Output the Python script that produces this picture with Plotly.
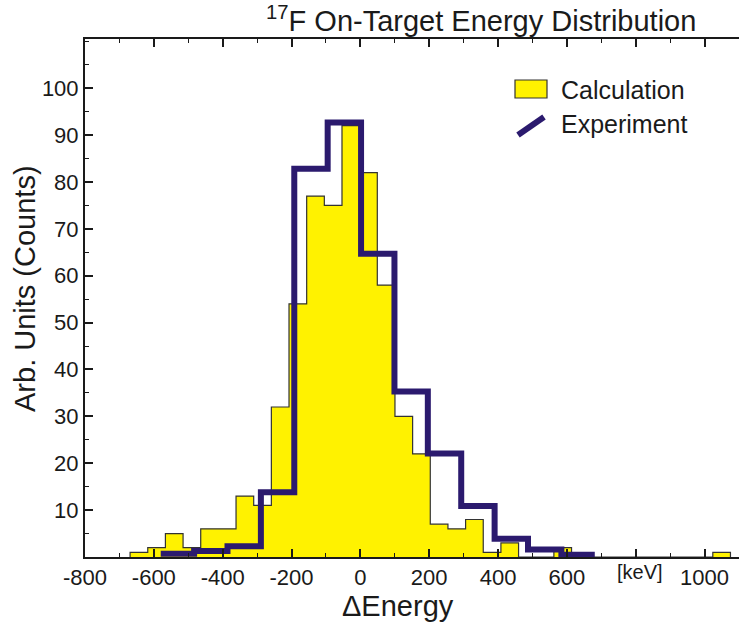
import numpy as np
import plotly.graph_objects as go

# ---- data ----
calc_lo = -669.0          # left edge of first calculation bin [keV]
calc_width = 51.3         # calculation bin width [keV]
calc_vals = [1, 2, 5, 2, 6, 6, 13, 11, 32, 54, 77, 75, 92, 82, 58, 30, 22, 7, 6, 8,
             1, 3, 0, 0, 2, 0, 0, 0, 0, 0, 0, 0, 0, 1]

exp_edges = [-580, -483, -386, -289, -192, -95, 2, 99, 196, 293, 390, 487, 584, 681]
exp_vals = [0.7, 1.3, 2.3, 13.8, 82.8, 92.7, 64.7, 35.3, 22.1, 10.9, 3.9, 1.6, 0.5]

x_tickvals = [-800, -600, -400, -200, 0, 200, 400, 600, 800, 1000]
x_ticktext = ["-800", "-600", "-400", "-200", "0", "200", "400", "600", " ", "1000"]
y_tickvals = [10, 20, 30, 40, 50, 60, 70, 80, 90, 100]

FONT = "Liberation Sans, Arial, Helvetica, sans-serif"
YELLOW = "#fff200"
NAVY = "#2b1a6e"
INK = "#1a1a1a"

calc_edges = calc_lo + calc_width * np.arange(len(calc_vals) + 1)
cx = [calc_edges[0]] + list(calc_edges[:-1]) + [calc_edges[-1]]
cy = [0] + list(calc_vals) + [0]

ex = list(exp_edges)
ey = list(exp_vals) + [exp_vals[-1]]

fig = go.Figure()
fig.add_trace(go.Scatter(x=cx, y=cy, mode="lines", line=dict(shape="hv", color="#333333", width=1.2),
                         fill="tozeroy", fillcolor=YELLOW, name="Calculation", showlegend=False,
                         hoverinfo="skip"))
fig.add_trace(go.Scatter(x=ex, y=ey, mode="lines", line=dict(shape="hv", color=NAVY, width=6),
                         name="Experiment", showlegend=False, hoverinfo="skip"))

# geometry helpers (paper coordinates from pixel positions)
L, R, T, B = 85, 739, 39, 557
W, H = R - L, B - T
def px(x):
    return (x - L) / W
def py(y):
    return (B - y) / H

fig.update_layout(
    width=739, height=626,
    margin=dict(l=L, r=739 - R, t=T, b=626 - B),
    paper_bgcolor="white", plot_bgcolor="white",
    font=dict(family=FONT, color=INK, size=22),
    showlegend=False,
)
fig.update_xaxes(
    range=[-800, 1100], showgrid=False, zeroline=False,
    showline=True, linecolor=INK, linewidth=2, mirror="ticks",
    tickmode="array", tickvals=x_tickvals, ticktext=x_ticktext,
    ticks="inside", ticklen=8, tickwidth=1.5, tickcolor=INK,
    tickfont=dict(size=22, family=FONT, color=INK), ticklabelstandoff=0,
    minor=dict(tickmode="linear", tick0=-800, dtick=100, ticks="inside", ticklen=4,
               tickwidth=1.2, tickcolor=INK, showgrid=False),
)
fig.update_yaxes(
    range=[0, 110.5], showgrid=False, zeroline=False,
    showline=True, linecolor=INK, linewidth=2, mirror=False,
    tickmode="array", tickvals=y_tickvals,
    ticks="inside", ticklen=8, tickwidth=1.5, tickcolor=INK,
    tickfont=dict(size=22, family=FONT, color=INK), ticklabelstandoff=0,
    minor=dict(tickmode="linear", tick0=0, dtick=5, ticks="inside", ticklen=4,
               tickwidth=1.2, tickcolor=INK, showgrid=False),
)

annotations = [
    dict(text="<sup>17</sup>F On-Target Energy Distribution", x=px(481), y=py(19),
         xref="paper", yref="paper", xanchor="center", yanchor="middle", showarrow=False,
         font=dict(size=29, family=FONT, color=INK)),
    dict(text="ΔEnergy", x=px(398), y=py(606), xref="paper", yref="paper",
         xanchor="center", yanchor="middle", showarrow=False,
         font=dict(size=29, family=FONT, color=INK)),
    dict(text="Arb. Units (Counts)", x=px(25), y=py(289), xref="paper", yref="paper",
         xanchor="center", yanchor="middle", showarrow=False, textangle=-90,
         font=dict(size=29, family=FONT, color=INK)),
    dict(text="[keV]", x=px(640), y=py(572), xref="paper", yref="paper",
         xanchor="center", yanchor="middle", showarrow=False,
         font=dict(size=20, family=FONT, color=INK)),
    dict(text="Calculation", x=px(559), y=py(90), xref="paper", yref="paper",
         xanchor="left", yanchor="middle", showarrow=False,
         font=dict(size=25, family=FONT, color=INK)),
    dict(text="Experiment", x=px(559), y=py(124), xref="paper", yref="paper",
         xanchor="left", yanchor="middle", showarrow=False,
         font=dict(size=25, family=FONT, color=INK)),
]
fig.update_layout(annotations=annotations)

fig.add_shape(type="rect", xref="paper", yref="paper", x0=px(515), x1=px(547), y0=py(98), y1=py(80),
              fillcolor=YELLOW, line=dict(color="#333333", width=1.2))
fig.add_shape(type="line", xref="paper", yref="paper", x0=px(518), y0=py(135), x1=px(544), y1=py(117),
              line=dict(color=NAVY, width=6))

fig.write_html("out.html")
